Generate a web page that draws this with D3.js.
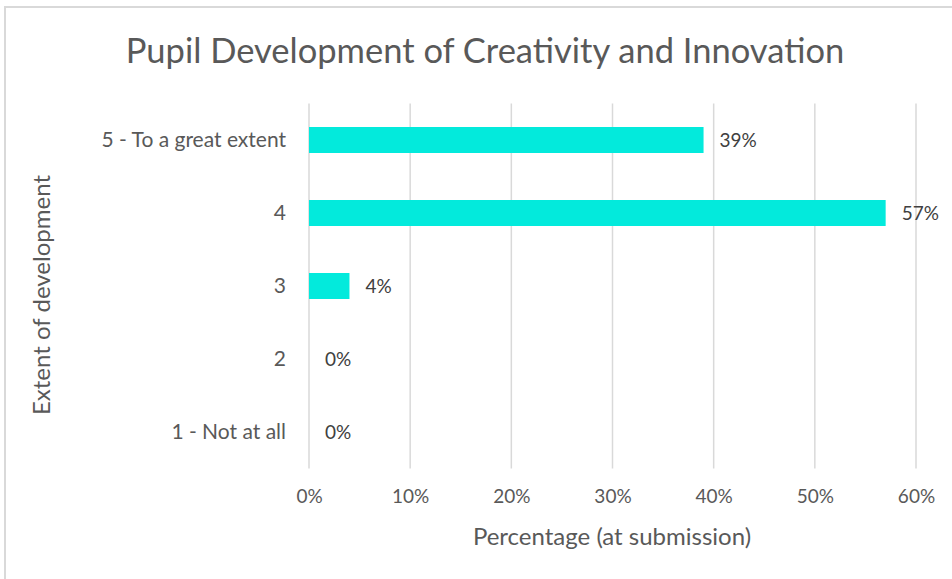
<!DOCTYPE html>
<html>
<head>
<meta charset="utf-8">
<script src="https://cdn.jsdelivr.net/npm/d3@7"></script>
<style>
  body { margin: 0; background: #fff; }
  svg text { font-family: Lato, "Open Sans", sans-serif; }
</style>
</head>
<body>
<svg id="chart" width="952" height="579"></svg>
<script>
var categories = ['5 - To a great extent', '4', '3', '2', '1 - Not at all'];
var values = [39, 57, 4, 0, 0];
var xTicks = [0, 10, 20, 30, 40, 50, 60];

(function () {
  var svg = d3.select('#chart'),
      plotLeft = 309, plotRight = 916, plotTop = 103.5, plotBottom = 468.5,
      axisColor = '#595959',
      gridColor = '#d9d9d9',
      barColor = '#03eadc';

  // chart frame (only left and top edges are visible)
  svg.append('path')
    .attr('d', 'M5,579 V7 H952')
    .attr('fill', 'none')
    .attr('stroke', '#d9d9d9')
    .attr('stroke-width', 2);

  var x = d3.scaleLinear().domain([0, 60]).range([plotLeft, plotRight]);
  var y = d3.scaleBand().domain(categories).range([plotTop, plotBottom])
    .paddingInner(0.644).paddingOuter(0.322);

  svg.append('text')
    .attr('x', 485).attr('y', 63)
    .attr('text-anchor', 'middle')
    .attr('font-size', 34.5)
    .attr('fill', axisColor)
    .text('Pupil Development of Creativity and Innovation');

  // gridlines
  svg.append('g')
    .selectAll('line')
    .data(xTicks)
    .enter()
    .append('line')
    .attr('x1', function (d) { return x(d); })
    .attr('x2', function (d) { return x(d); })
    .attr('y1', plotTop)
    .attr('y2', plotBottom)
    .attr('stroke', gridColor)
    .attr('stroke-width', 1.5);

  // bars
  svg.append('g')
    .selectAll('rect')
    .data(values)
    .enter()
    .append('rect')
    .attr('x', x(0))
    .attr('y', function (d, i) { return y(categories[i]); })
    .attr('width', function (d) { return x(d) - x(0); })
    .attr('height', y.bandwidth())
    .attr('fill', barColor);

  // value labels
  svg.append('g')
    .selectAll('text')
    .data(values)
    .enter()
    .append('text')
    .attr('x', function (d) { return x(d) + 16; })
    .attr('y', function (d, i) { return y(categories[i]) + y.bandwidth() / 2; })
    .attr('dy', '0.35em')
    .attr('font-size', 19)
    .attr('fill', '#404040')
    .text(function (d) { return d + '%'; });

  // x axis
  var xAxis = svg.append('g')
    .attr('transform', 'translate(0,' + plotBottom + ')')
    .call(d3.axisBottom(x).tickValues(xTicks).tickSize(0).tickPadding(21)
      .tickFormat(function (d) { return d + '%'; }));
  xAxis.select('.domain').remove();
  xAxis.selectAll('text').attr('font-size', 19).attr('fill', axisColor);

  // y axis
  var yAxis = svg.append('g')
    .attr('transform', 'translate(' + plotLeft + ',0)')
    .call(d3.axisLeft(y).tickSize(0).tickPadding(23));
  yAxis.select('.domain').remove();
  yAxis.selectAll('text').attr('font-size', 21).attr('fill', axisColor);

  svg.append('text')
    .attr('x', 612).attr('y', 545)
    .attr('text-anchor', 'middle')
    .attr('font-size', 24)
    .attr('fill', axisColor)
    .text('Percentage (at submission)');

  svg.append('text')
    .attr('transform', 'translate(50,295) rotate(-90)')
    .attr('text-anchor', 'middle')
    .attr('font-size', 24)
    .attr('fill', axisColor)
    .text('Extent of development');
})();
</script>
</body>
</html>
